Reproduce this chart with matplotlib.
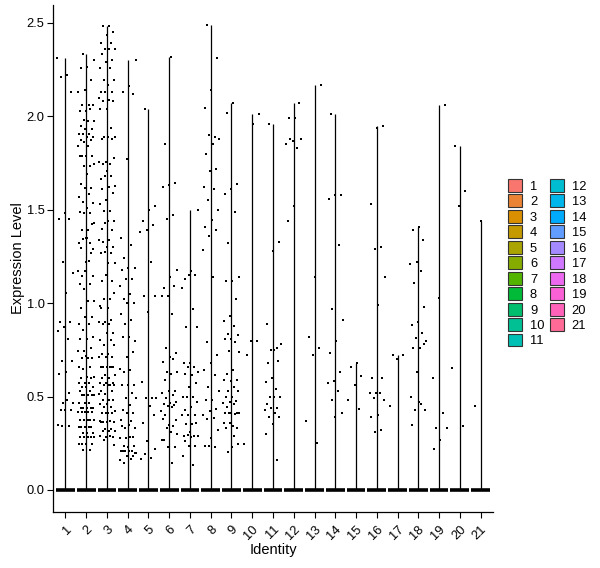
import numpy as np
import matplotlib
matplotlib.use("Agg")
import matplotlib.pyplot as plt
from matplotlib.patches import Patch

plt.rcParams['font.family'] = ['Liberation Sans', 'DejaVu Sans']

identities = [str(i) for i in range(1, 22)]

c1 = [2.31, 2.22, 2.21, 2.13, 1.48, 1.45, 1.45, 1.22, 1.16, 1.055, 0.90, 0.90, 0.87, 0.85, 0.81,
      0.69, 0.69, 0.63, 0.62, 0.52, 0.465, 0.465, 0.48, 0.43, 0.43, 0.43, 0.35, 0.34, 0.34]
c2 = [2.335, 2.30, 2.265, 2.26, 2.195, 2.14, 2.13, 2.06, 2.06, 2.06, 2.03, 2.03, 2.04, 1.98, 1.975,
      1.975, 1.95, 1.93, 1.93, 1.905, 1.905, 1.905, 1.89, 1.89, 1.875, 1.875, 1.86, 1.84, 1.84,
      1.79, 1.79, 1.79, 1.79, 1.735, 1.735, 1.745, 1.69, 1.64, 1.615, 1.615, 1.57, 1.585, 1.54,
      1.535, 1.51, 1.49, 1.48, 1.48, 1.43, 1.39, 1.39, 1.425, 1.35, 1.32, 1.32, 1.345, 1.29, 1.35,
      1.295, 1.27, 1.17, 1.17, 1.225, 1.145, 1.145, 1.22, 1.10, 1.10, 1.075, 1.01, 1.01, 0.975,
      0.925, 0.925, 0.89, 0.89, 0.855, 0.82, 0.81, 0.81, 0.76, 0.745, 0.745, 0.705, 0.705, 0.705,
      0.715, 0.66, 0.66, 0.65, 0.605, 0.605, 0.60, 0.60, 0.575, 0.575, 0.575, 0.55, 0.55, 0.55,
      0.53, 0.53, 0.51, 0.51, 0.51, 0.51, 0.51, 0.465, 0.465, 0.465, 0.44, 0.44, 0.44, 0.44, 0.44,
      0.415, 0.415, 0.415, 0.415, 0.415, 0.415, 0.375, 0.375, 0.375, 0.375, 0.375, 0.335, 0.335,
      0.335, 0.335, 0.335, 0.305, 0.305, 0.305, 0.285, 0.285, 0.285, 0.285, 0.285, 0.245, 0.245,
      0.245, 0.245, 0.215, 0.215]
c3 = [2.485, 2.485, 2.45, 2.435, 2.39, 2.39, 2.36, 2.36, 2.36, 2.335, 2.30, 2.29, 2.26, 2.26, 2.195,
      2.195, 2.17, 2.13, 2.13, 2.13, 2.10, 2.09, 2.08, 2.08, 2.04, 2.04, 1.935, 1.89, 1.89, 1.89,
      1.88, 1.88, 1.755, 1.755, 1.745, 1.745, 1.775, 1.71, 1.665, 1.68, 1.68, 1.625, 1.62, 1.61,
      1.59, 1.55, 1.53, 1.495, 1.495, 1.44, 1.44, 1.395, 1.39, 1.43, 1.34, 1.34, 1.33, 1.30, 1.30,
      1.27, 1.27, 1.275, 1.215, 1.215, 1.12, 1.12, 1.15, 0.985, 1.02, 1.02, 1.055, 0.975, 0.975,
      0.91, 0.90, 0.90, 0.89, 0.89, 0.84, 0.84, 0.805, 0.805, 0.775, 0.775, 0.73, 0.73, 0.71, 0.71,
      0.71, 0.66, 0.66, 0.66, 0.66, 0.66, 0.66, 0.615, 0.615, 0.60, 0.60, 0.575, 0.575, 0.575, 0.56,
      0.56, 0.56, 0.56, 0.53, 0.53, 0.515, 0.515, 0.48, 0.48, 0.48, 0.46, 0.46, 0.445, 0.445, 0.42,
      0.41, 0.41, 0.41, 0.41, 0.37, 0.37, 0.365, 0.365, 0.365, 0.365, 0.325, 0.325, 0.315, 0.315,
      0.315, 0.285, 0.285, 0.29, 0.29, 0.27, 0.24]
c4 = [2.30, 2.16, 2.13, 2.12, 1.77, 1.35, 1.31, 1.24, 1.19, 1.19, 1.18, 1.13, 1.13, 1.09, 1.05,
      1.02, 1.00, 1.00, 0.94, 0.91, 0.89, 0.80, 0.82, 0.82, 0.74, 0.71, 0.65, 0.64, 0.63, 0.56,
      0.56, 0.56, 0.52, 0.49, 0.49, 0.455, 0.43, 0.41, 0.41, 0.375, 0.37, 0.33, 0.33, 0.35, 0.34,
      0.285, 0.28, 0.28, 0.285, 0.235, 0.235, 0.23, 0.21, 0.21, 0.21, 0.20, 0.21, 0.21, 0.18,
      0.18, 0.16, 0.165, 0.145, 0.20]
c5 = [2.04, 1.52, 1.50, 1.44, 1.42, 1.39, 1.38, 1.22, 1.04, 1.04, 0.95, 0.58, 0.49, 0.49, 0.49,
      0.45, 0.36, 0.40, 0.26, 0.165, 0.17, 0.19, 0.22]
c6 = [2.32, 1.85, 1.645, 1.63, 1.62, 1.47, 1.45, 1.18, 1.14, 1.08, 1.09, 1.04, 1.04, 0.94, 0.76,
      0.735, 0.71, 0.685, 0.70, 0.63, 0.63, 0.62, 0.59, 0.53, 0.53, 0.52, 0.51, 0.49, 0.47, 0.465,
      0.46, 0.455, 0.45, 0.42, 0.445, 0.40, 0.375, 0.35, 0.38, 0.34, 0.33, 0.30, 0.31, 0.27, 0.23,
      0.23, 0.265, 0.145]
c7 = [1.50, 1.17, 1.13, 1.15, 1.15, 1.08, 0.97, 0.87, 0.87, 0.68, 0.68, 0.66, 0.66, 0.63, 0.615,
      0.62, 0.575, 0.55, 0.50, 0.50, 0.50, 0.47, 0.445, 0.43, 0.40, 0.40, 0.40, 0.355, 0.355, 0.36,
      0.31, 0.29, 0.29, 0.295, 0.29, 0.285, 0.26, 0.235, 0.235, 0.18, 0.135]
c8 = [2.49, 2.31, 2.14, 2.045, 1.89, 1.90, 1.88, 1.85, 1.80, 1.72, 1.71, 1.62, 1.61, 1.55, 1.50,
      1.445, 1.41, 1.39, 1.36, 1.285, 1.14, 0.79, 0.72, 0.68, 0.64, 0.615, 0.55, 0.53, 0.48, 0.48,
      0.435, 0.42, 0.40, 0.385, 0.38, 0.32, 0.28, 0.235, 0.23, 0.235]
c9 = [2.07, 2.02, 1.64, 1.61, 1.585, 1.49, 1.32, 1.14, 1.12, 1.12, 1.02, 0.93, 0.905, 0.88, 0.835,
      0.83, 0.81, 0.81, 0.79, 0.745, 0.74, 0.64, 0.62, 0.59, 0.585, 0.59, 0.55, 0.53, 0.53, 0.50,
      0.50, 0.475, 0.47, 0.465, 0.46, 0.445, 0.41, 0.41, 0.41, 0.405, 0.41, 0.41, 0.34, 0.33, 0.33,
      0.36, 0.36, 0.29, 0.205, 0.245, 0.23]
c10 = [2.01, 1.96, 0.72, 0.80, 0.80, 0.246]
c11 = [1.96, 1.33, 1.28, 0.89, 0.76, 0.75, 0.78, 0.75, 0.68, 0.69, 0.60, 0.58, 0.54, 0.50, 0.50,
       0.50, 0.46, 0.44, 0.44, 0.43, 0.41, 0.39, 0.39, 0.355, 0.30, 0.16]
c12 = [1.99, 1.99, 2.07, 1.87, 1.85, 1.83, 1.88, 1.88, 1.52, 1.44]
c13 = [2.17, 1.14, 0.82, 0.76, 0.72, 0.37, 0.25]
c14 = [2.01, 1.58, 1.58, 1.56, 1.31, 0.97, 0.91, 0.80, 0.735, 0.63, 0.585, 0.57, 0.53, 0.48, 0.41, 0.39]
c15 = [0.68, 0.66, 0.61, 0.56, 0.48, 0.435]
c16 = [1.95, 1.94, 1.53, 1.30, 1.29, 1.14, 0.99, 0.60, 0.60, 0.52, 0.52, 0.52, 0.49, 0.48, 0.40,
       0.39, 0.32, 0.31]
c17 = [0.72, 0.72, 0.70, 0.45]
c18 = [1.41, 1.39, 1.34, 1.22, 1.21, 1.17, 1.11, 0.98, 0.90, 0.885, 0.84, 0.815, 0.80, 0.76, 0.76,
       0.78, 0.63, 0.50, 0.46, 0.43, 0.43, 0.47, 0.35]
c19 = [2.06, 1.03, 0.60, 0.41, 0.33, 0.33, 0.27, 0.22]
c20 = [1.84, 1.60, 1.52, 0.655, 0.34]
c21 = [1.44, 0.45]

expression = [c1, c2, c3, c4, c5, c6, c7, c8, c9, c10, c11, c12, c13, c14, c15, c16, c17, c18,
              c19, c20, c21]


def hcl_hex(h, c, l):
    hr = np.deg2rad(h)
    U, V = c * np.cos(hr), c * np.sin(hr)
    Xn, Yn, Zn = 95.047, 100.0, 108.883
    Y = Yn * ((l + 16) / 116) ** 3 if l > 7.999592 else Yn * l / 903.3
    den = Xn + 15 * Yn + 3 * Zn
    un, vn = 4 * Xn / den, 9 * Yn / den
    u = U / (13 * l) + un
    v = V / (13 * l) + vn
    X = 9.0 * Y * u / (4 * v)
    Z = -X / 3 - 5 * Y + 3 * Y / v
    X, Y, Z = X / 100, Y / 100, Z / 100
    rgb = [3.240479 * X - 1.537150 * Y - 0.498535 * Z,
           -0.969256 * X + 1.875992 * Y + 0.041556 * Z,
           0.055648 * X - 0.204043 * Y + 1.057311 * Z]
    out = []
    for t in rgb:
        t = 1.055 * t ** (1 / 2.4) - 0.055 if t > 0.0031308 else 12.92 * t
        out.append(min(max(t, 0), 1))
    return tuple(out)


n = len(identities)
hues = np.linspace(15, 375, n + 1)[:n]
colors = [hcl_hex(h, 100, 65) for h in hues]

W, H = 600, 568
fig = plt.figure(figsize=(W / 100, H / 100), dpi=100)
ax = fig.add_axes([53 / W, 1 - 512 / H, 440 / W, 507 / H])

xpos = np.arange(1, n + 1)
golden = 0.6180339887
for i, (x, vals) in enumerate(zip(xpos, expression)):
    vals = np.asarray(vals)
    ax.vlines(x, 0, vals.max(), color='black', lw=0.9, zorder=2)
    ax.hlines(0, x - 0.45, x + 0.45, color='black', lw=2.6, zorder=2)
    k = np.arange(len(vals)) + i * 7
    jit = ((k * golden) % 1.0 - 0.5) * 0.8
    ax.scatter(x + jit, vals, s=3.2, c='black', marker='s', linewidths=0, zorder=3)

ax.set_xlim(0.4, 21.6)
ax.set_ylim(-0.118, 2.596)
ax.set_yticks([0.0, 0.5, 1.0, 1.5, 2.0, 2.5])
ax.set_yticklabels(['0.0', '0.5', '1.0', '1.5', '2.0', '2.5'])
ax.set_xticks(xpos)
ax.set_xticklabels(identities, rotation=45, ha='right', va='top', rotation_mode='anchor')
for s in ['top', 'right']:
    ax.spines[s].set_visible(False)
for s in ['left', 'bottom']:
    ax.spines[s].set_linewidth(0.9)
ax.tick_params(axis='both', length=4, width=0.8, labelsize=9.3, colors='black', pad=2)
ax.tick_params(axis='x', pad=4)
ax.set_xlabel('Identity', fontsize=10.5, labelpad=0.5)
ax.set_ylabel('Expression Level', fontsize=10.5, labelpad=1)

handles = [Patch(facecolor=col, edgecolor='#333333', linewidth=0.8, label=lab)
           for col, lab in zip(colors, identities)]
fig.legend(handles=handles, loc='upper left', bbox_to_anchor=(508 / W, 1 - 179 / H),
           ncol=2, frameon=False, fontsize=9.3, handlelength=1.1, handleheight=1.15,
           labelspacing=0.13, handletextpad=0.6, columnspacing=0.4, borderpad=0,
           borderaxespad=0)

fig.savefig('out.png', dpi=100)
